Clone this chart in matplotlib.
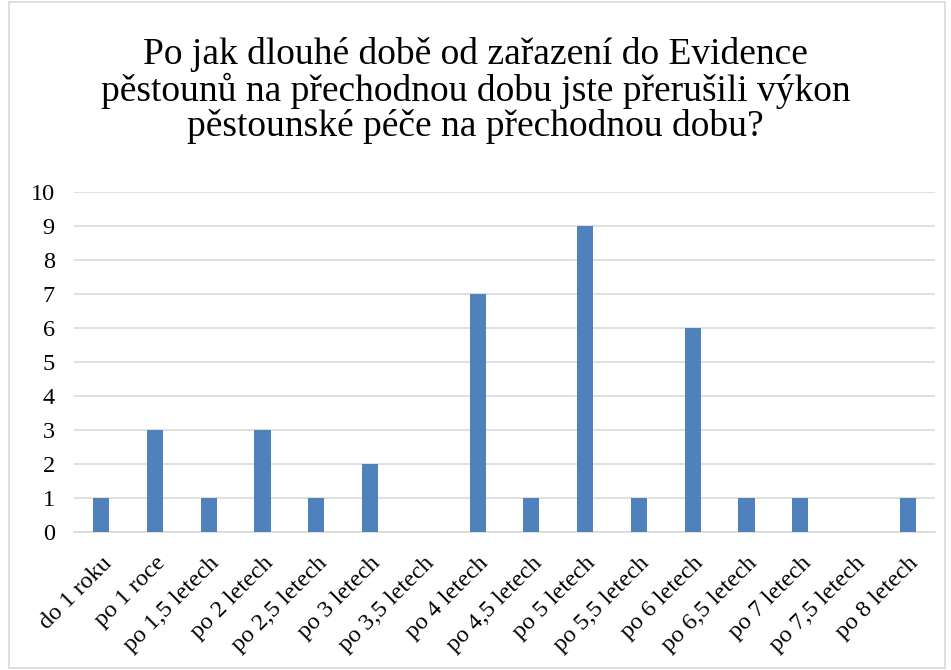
import matplotlib.pyplot as plt
from matplotlib.patches import Rectangle

categories = ['do 1 roku', 'po 1 roce', 'po 1,5 letech', 'po 2 letech', 'po 2,5 letech',
              'po 3 letech', 'po 3,5 letech', 'po 4 letech', 'po 4,5 letech', 'po 5 letech',
              'po 5,5 letech', 'po 6 letech', 'po 6,5 letech', 'po 7 letech', 'po 7,5 letech',
              'po 8 letech']
values = [1, 3, 1, 3, 1, 2, 0, 7, 1, 9, 1, 6, 1, 1, 0, 1]
title = ('Po jak dlouhé době od zařazení do Evidence\n'
         'pěstounů na přechodnou dobu jste přerušili výkon\n'
         'pěstounské péče na přechodnou dobu?')

plt.rcParams['font.family'] = ['Liberation Serif', 'DejaVu Serif']

fig = plt.figure(figsize=(9.51, 6.70), dpi=100)
ax = fig.add_axes([0.078, 0.206, 0.905, 0.508])

x = range(len(categories))
ax.bar(x, values, width=0.3, color='#4F81BD', zorder=3)

ax.set_xlim(-0.5, len(categories) - 0.5)
ax.set_ylim(0, 10)
ax.set_yticks(range(0, 11))
ax.yaxis.grid(True, color='#D9D9D9', linewidth=1.2, zorder=0)
ax.set_xticks(list(x))
ax.set_xticklabels(categories, rotation=45, ha='right', rotation_mode='anchor')
ax.tick_params(axis='both', length=0, labelsize=17.5, colors='black')
ax.tick_params(axis='x', pad=15)
ax.tick_params(axis='y', pad=14)
for side in ['top', 'right', 'left']:
    ax.spines[side].set_visible(False)
ax.spines['bottom'].set_color('#D9D9D9')
ax.spines['bottom'].set_linewidth(1.2)

fig.text(0.5, 0.865, title, ha='center', va='center', fontsize=27, linespacing=1.03)

# chart border
fig.patches.append(Rectangle((0.009, 0.003), 0.985, 0.994, transform=fig.transFigure,
                             fill=False, edgecolor='#D9D9D9', linewidth=1.2))

fig.savefig('out.png', dpi=100)
